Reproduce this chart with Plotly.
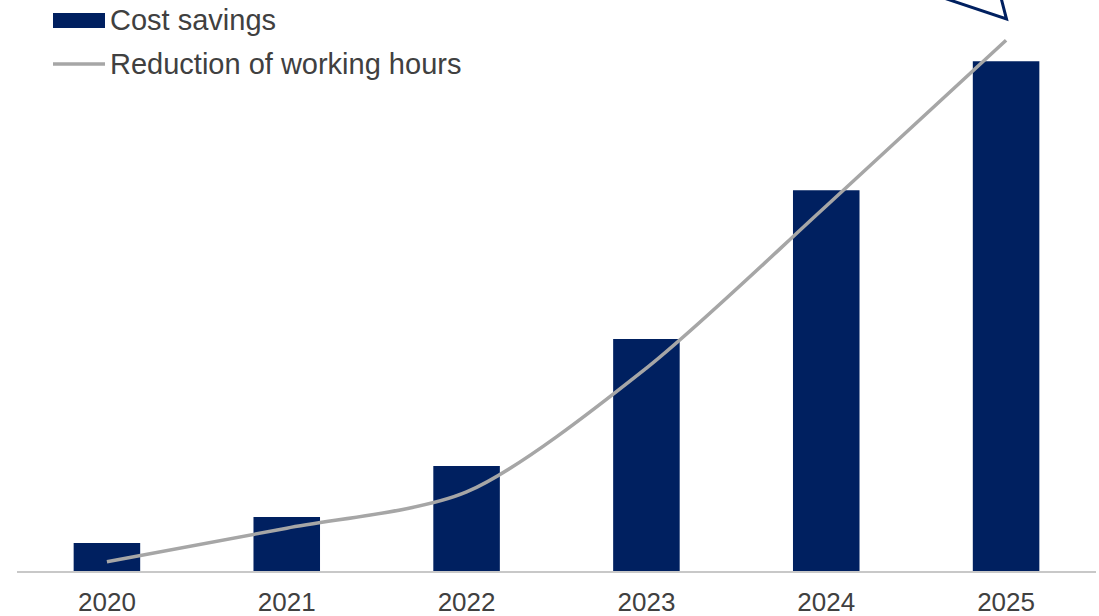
import plotly.graph_objects as go

years = ["2020", "2021", "2022", "2023", "2024", "2025"]
cost_savings = [5.5, 10.6, 20.6, 45.5, 74.7, 100.0]
working_hours_reduction = [1.8, 8.4, 15.5, 39.8, 71.6, 104.1]

NAVY = "#002060"
GREY = "#A6A6A6"
TEXT = "#404040"

W, H = 1099, 616
ML, MR, MT, MB = 17, 3, 0, 45
PW, PH = W - ML - MR, H - MT - MB


def px(x):
    return (x - ML) / PW


def py(y):
    return (H - MB - y) / PH


fig = go.Figure()
fig.add_trace(go.Bar(x=years, y=cost_savings, name="Cost savings",
                     marker=dict(color=NAVY, line=dict(width=0)),
                     showlegend=False))
fig.add_trace(go.Scatter(x=years, y=working_hours_reduction, mode="lines",
                         name="Reduction of working hours",
                         line=dict(color=GREY, width=3.5, shape="spline", smoothing=0.8),
                         showlegend=False))

shapes = [
    dict(type="rect", xref="paper", yref="paper", x0=px(53), x1=px(105), y0=py(28), y1=py(13),
         fillcolor=NAVY, line=dict(width=0)),
    dict(type="line", xref="paper", yref="paper", x0=px(53), x1=px(105), y0=py(64), y1=py(64),
         line=dict(color=GREY, width=3.5)),
    dict(type="path", xref="paper", yref="paper",
         path=f"M {px(920)} {py(-10)} L {px(1006.5)} {py(19)} L {px(999)} {py(-10)}",
         line=dict(color=NAVY, width=3), fillcolor="rgba(0,0,0,0)"),
]

annotations = [
    dict(xref="paper", yref="paper", x=px(108), y=py(20), text="Cost savings",
         showarrow=False, xanchor="left", yanchor="middle",
         font=dict(size=29, color=TEXT, family="Liberation Sans, Arial")),
    dict(xref="paper", yref="paper", x=px(108), y=py(64), text="Reduction of working hours",
         showarrow=False, xanchor="left", yanchor="middle",
         font=dict(size=29, color=TEXT, family="Liberation Sans, Arial")),
]

fig.update_layout(
    width=W, height=H,
    margin=dict(l=ML, r=MR, t=MT, b=MB),
    paper_bgcolor="white", plot_bgcolor="white",
    bargap=0.63,
    hovermode=False,
    shapes=shapes,
    annotations=annotations,
    font=dict(family="Liberation Sans, Arial", color=TEXT),
    xaxis=dict(showgrid=False, showline=True, linecolor="#C8C8C8", linewidth=2,
               ticks="", tickfont=dict(size=26, color=TEXT), ticklabelstandoff=7),
    yaxis=dict(range=[0, 112], visible=False, showgrid=False, zeroline=False),
)

fig.write_html("out.html", config={"displayModeBar": False},
               post_script="document.body.style.margin='0px';document.body.style.overflow='hidden';")
